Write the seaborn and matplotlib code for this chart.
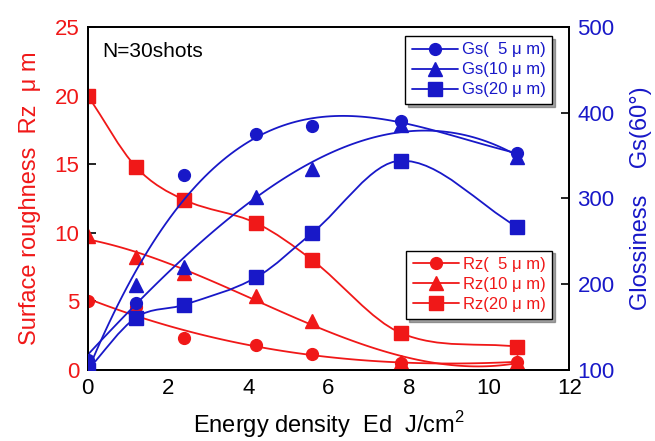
import matplotlib
matplotlib.use("Agg")
import matplotlib.pyplot as plt
from matplotlib.lines import Line2D
from matplotlib.path import Path
from matplotlib.patches import PathPatch
import numpy as np
import seaborn as sns

ED = [0.0, 1.2, 2.4, 4.2, 5.6, 7.8, 10.7]

RZ_5 = [5.0, 4.6, 2.3, 1.8, 1.2, 0.5, 0.6]
RZ_10 = [9.8, 8.2, 7.1, 5.4, 3.6, 0.6, 0.6]
RZ_20 = [20.0, 14.8, 12.4, 10.7, 8.0, 2.7, 1.7]

GS_5 = [112, 178, 327, 375, 384, 390, 353]
GS_10 = [108, 199, 220, 302, 334, 386, 348]
GS_20 = [100, 161, 176, 208, 260, 344, 267]

RZ_LABELS = ["Rz(  5 \u03bc m)", "Rz(10 \u03bc m)", "Rz(20 \u03bc m)"]
GS_LABELS = ["Gs(  5 \u03bc m)", "Gs(10 \u03bc m)", "Gs(20 \u03bc m)"]
MARKERS = ["o", "^", "s"]
SIZES = [8.5, 10, 10]

RED = "#f01818"
BLUE = "#1818c8"

sns.set_theme(style="white")
plt.rcParams["font.family"] = ["Liberation Sans", "DejaVu Sans"]
plt.rcParams["mathtext.fontset"] = "custom"
plt.rcParams["mathtext.rm"] = "Liberation Sans"

fig = plt.figure(figsize=(6.55, 4.41), dpi=100)
ax = fig.add_axes([0.134, 0.161, 0.735, 0.778])
ax2 = ax.twinx()


def fit_line(axis, ys, color, order):
    # polynomial fit curve drawn by seaborn
    sns.regplot(x=np.array(ED), y=np.array(ys, dtype=float), ax=axis, order=order,
                ci=None, scatter=False, truncate=True,
                line_kws={"color": color, "lw": 1.3})


def spline_line(axis, ys, color):
    # smooth connection through the points as cubic bezier segments
    x = np.array(ED)
    y = np.array(ys, dtype=float)
    m = np.empty_like(y)
    m[0] = (y[1] - y[0]) / (x[1] - x[0])
    m[-1] = (y[-1] - y[-2]) / (x[-1] - x[-2])
    m[1:-1] = (y[2:] - y[:-2]) / (x[2:] - x[:-2])
    verts = [(x[0], y[0])]
    codes = [Path.MOVETO]
    for i in range(len(x) - 1):
        h = x[i + 1] - x[i]
        verts += [(x[i] + h / 3, y[i] + m[i] * h / 3),
                  (x[i + 1] - h / 3, y[i + 1] - m[i + 1] * h / 3),
                  (x[i + 1], y[i + 1])]
        codes += [Path.CURVE4] * 3
    axis.add_patch(PathPatch(Path(verts, codes), fill=False, edgecolor=color, lw=1.3))


def points(axis, ys, color, marker, size):
    axis.plot(ED, ys, ls="none", marker=marker, ms=size, color=color, mec=color, zorder=5)


fit_line(ax, RZ_5, RED, 3)
fit_line(ax, RZ_10, RED, 3)
spline_line(ax, RZ_20, RED)
fit_line(ax2, GS_5, BLUE, 3)
fit_line(ax2, GS_10, BLUE, 3)
spline_line(ax2, GS_20, BLUE)

for ys, mk, s in zip([RZ_5, RZ_10, RZ_20], MARKERS, SIZES):
    points(ax, ys, RED, mk, s)
for ys, mk, s in zip([GS_5, GS_10, GS_20], MARKERS, SIZES):
    points(ax2, ys, BLUE, mk, s)

ax.set_xlim(0, 12)
ax.set_ylim(0, 25)
ax2.set_ylim(100, 500)
ax.set_xticks([0, 2, 4, 6, 8, 10, 12])
ax.set_yticks([0, 5, 10, 15, 20, 25])
ax2.set_yticks([100, 200, 300, 400, 500])

for a in (ax, ax2):
    for sp in a.spines.values():
        sp.set_color("black")
        sp.set_linewidth(1.3)
ax.tick_params(axis="both", direction="in", length=6, width=1.2, labelsize=16, pad=6)
ax.tick_params(axis="y", colors="black", labelcolor=RED)
ax.tick_params(axis="x", labelcolor="black")
ax2.tick_params(axis="y", direction="in", length=6, width=1.2, labelsize=16,
                colors="black", labelcolor=BLUE, pad=6)

ax.set_xlabel("Energy density  Ed  J/cm$^2$", fontsize=17, color="black", labelpad=7)
ax.set_ylabel("Surface roughness  Rz  \u03bc m", fontsize=17, color=RED, labelpad=10)
ax2.set_ylabel("Glossiness    Gs(60\u00b0)", fontsize=17, color=BLUE, labelpad=11)

ax.text(0.35, 23.2, "N=30shots", fontsize=15, color="black", va="center")

gs_handles = [Line2D([], [], color=BLUE, marker=mk, ms=s, lw=1.3) for mk, s in zip(MARKERS, SIZES)]
rz_handles = [Line2D([], [], color=RED, marker=mk, ms=s, lw=1.3) for mk, s in zip(MARKERS, SIZES)]

leg_kw = dict(fontsize=12, frameon=True, fancybox=False, shadow=True,
              handlelength=2.8, borderpad=0.4, labelspacing=0.3, handletextpad=0.2,
              borderaxespad=0)
leg1 = ax2.legend(gs_handles, GS_LABELS, loc="upper right", bbox_to_anchor=(0.965, 0.974),
                  labelcolor=BLUE, **leg_kw)
leg1.get_frame().set_edgecolor("black")
leg1.get_frame().set_linewidth(1.0)
ax2.add_artist(leg1)

leg2 = ax2.legend(rz_handles, RZ_LABELS, loc="lower right", bbox_to_anchor=(0.965, 0.149),
                  labelcolor=RED, **leg_kw)
leg2.get_frame().set_edgecolor("black")
leg2.get_frame().set_linewidth(1.0)

fig.savefig("out.png", dpi=100)
